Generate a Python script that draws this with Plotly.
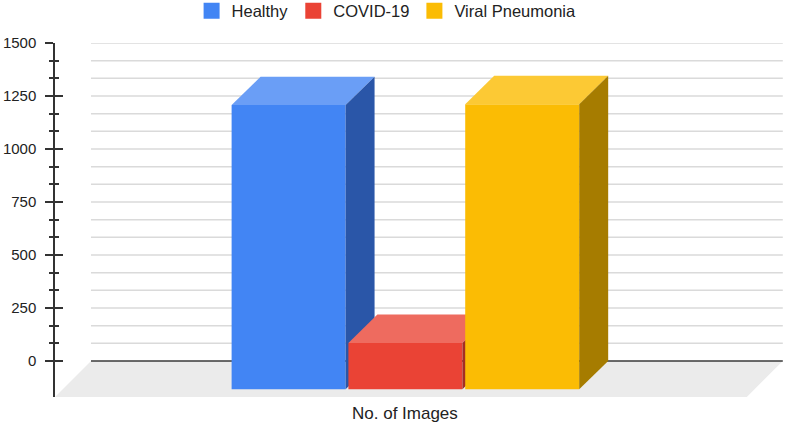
import plotly.graph_objects as go

# ---- data ----
series = ["Healthy", "COVID-19", "Viral Pneumonia"]
values = [1341, 219, 1345]
category = "No. of Images"
y_ticks = [0, 250, 500, 750, 1000, 1250, 1500]

# ---- style ----
front_colors = ["#4285F4", "#EA4335", "#FBBC04"]
top_colors = ["#6A9EF6", "#EE6B5F", "#FCC934"]
side_colors = ["#2A56A8", "#A32E25", "#A67C00"]

BAR_W = 0.976
DX = 0.248      # bar depth (x units)
DY = 134        # bar depth (value units)
FLOOR_DX = 0.308
FLOOR_DY = 170
X_RANGE = [-2.0, 4.267]
Y_RANGE = [-FLOOR_DY, y_ticks[-1]]
FONT = "Liberation Sans, Arial, sans-serif"

fig = go.Figure()

suffix = ["", "2", "3"]
for i, (name, v) in enumerate(zip(series, values)):
    xa = "x" + suffix[i]
    ya = "y" + suffix[i]
    x0 = i - BAR_W / 2
    x1 = i + BAR_W / 2
    # front face: library bar
    fig.add_trace(go.Bar(
        x=[i], y=[v], base=[-DY], width=[BAR_W], name=name,
        marker=dict(color=front_colors[i], line=dict(width=0)),
        xaxis=xa, yaxis=ya, hoverinfo="skip", showlegend=False,
    ))
    # top face
    fig.add_trace(go.Scatter(
        x=[x0, x1, x1 + DX, x0 + DX, x0],
        y=[v - DY, v - DY, v, v, v - DY],
        fill="toself", mode="lines", line=dict(width=0),
        fillcolor=top_colors[i], showlegend=False, hoverinfo="skip",
        xaxis=xa, yaxis=ya,
    ))
    # side face
    fig.add_trace(go.Scatter(
        x=[x1, x1, x1 + DX, x1 + DX, x1],
        y=[-DY, v - DY, v, 0, -DY],
        fill="toself", mode="lines", line=dict(width=0),
        fillcolor=side_colors[i], showlegend=False, hoverinfo="skip",
        xaxis=xa, yaxis=ya,
    ))

# legend entries (square swatches)
for i, name in enumerate(series):
    fig.add_trace(go.Scatter(
        x=[None], y=[None], mode="markers", name=name,
        marker=dict(symbol="square", size=16, color=front_colors[i]),
        hoverinfo="skip",
    ))

# minor positions (thirds between major ticks)
minor_vals = []
for a, b in zip(y_ticks[:-1], y_ticks[1:]):
    minor_vals += [a + (b - a) / 3, a + 2 * (b - a) / 3]

back_left = X_RANGE[0] + FLOOR_DX
back_right = 4.231
front_right = back_right - FLOOR_DX

shapes = [
    dict(type="path", xref="x", yref="y", layer="below",
         path=f"M {X_RANGE[0]},{-FLOOR_DY} L {front_right},{-FLOOR_DY} "
              f"L {back_right},0 L {back_left},0 Z",
         fillcolor="#EBEBEB", line=dict(width=0)),
]
for g in sorted(y_ticks[1:] + minor_vals):
    shapes.append(dict(type="line", xref="x", yref="y", layer="below",
                       x0=back_left, x1=back_right, y0=g, y1=g,
                       line=dict(color="#DADADA", width=1.5)))
shapes.append(dict(type="line", xref="x", yref="y", layer="below",
                   x0=back_left, x1=back_right, y0=0, y1=0,
                   line=dict(color="#3A3A3A", width=1.5)))

axis_x = dict(range=X_RANGE, visible=False, fixedrange=True)
fig.update_layout(
    width=787, height=424,
    margin=dict(l=55, r=0, t=43, b=27, autoexpand=False),
    paper_bgcolor="white", plot_bgcolor="white",
    font=dict(family=FONT, size=15, color="#222222"),
    barmode="overlay",
    xaxis=axis_x,
    xaxis2=dict(axis_x, overlaying="x"),
    xaxis3=dict(axis_x, overlaying="x"),
    yaxis=dict(range=Y_RANGE, tickvals=y_ticks, ticks="outside", ticklen=8,
               tickwidth=1.5, tickcolor="#333333", showline=True,
               linecolor="#333333", linewidth=1.5, showgrid=False,
               zeroline=False, ticklabelstandoff=6, automargin=False,
               tickfont=dict(size=15, color="#222222"),
               minor=dict(tickvals=minor_vals, ticks="outside", ticklen=4,
                          tickwidth=1.5, tickcolor="#333333", showgrid=False)),
    yaxis2=dict(range=Y_RANGE, overlaying="y", anchor="x", side="left",
                tickvals=y_ticks, ticks="inside", ticklen=8, tickwidth=1.5,
                tickcolor="#333333", showticklabels=False, showline=False,
                showgrid=False, zeroline=False, automargin=False,
                minor=dict(tickvals=minor_vals, ticks="inside", ticklen=4,
                           tickwidth=1.5, tickcolor="#333333", showgrid=False)),
    yaxis3=dict(range=Y_RANGE, overlaying="y", visible=False),
    legend=dict(orientation="h", x=0.453, xanchor="center", y=1.14,
                yref="paper", yanchor="top",
                font=dict(size=16.5, color="#222222")),
    shapes=shapes,
    annotations=[dict(text=category, xref="x", x=1, yref="paper", y=0,
                      yanchor="top", yshift=-5, showarrow=False,
                      font=dict(size=17, color="#222222"))],
)

fig.write_html("out.html", config={"displayModeBar": False},
               post_script="document.body.style.margin='0';"
                           "document.body.style.overflow='hidden';")
